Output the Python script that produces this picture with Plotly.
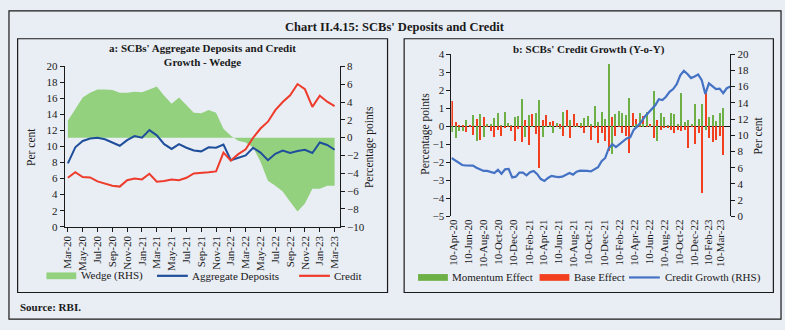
import plotly.graph_objects as go
import pandas as pd

# ---------------- Panel a data (monthly, Mar-20 .. Mar-23) ----------------
months = list(pd.date_range("2020-03-01", periods=37, freq="MS").strftime("%b-%y"))
month_ticks = months[::2]

deposits = [7.9, 9.9, 10.7, 11.0, 11.1, 10.9, 10.5, 10.1, 10.8, 11.3, 11.1, 12.05,
            11.4, 10.3, 9.7, 10.3, 9.85, 9.5, 9.4, 9.9, 9.85, 10.25, 8.3, 8.6,
            8.9, 9.85, 9.25, 8.3, 9.1, 9.5, 9.2, 9.45, 9.6, 9.2, 10.5, 10.2, 9.6]
credit = [6.1, 6.8, 6.2, 6.15, 5.65, 5.4, 5.1, 5.0, 5.8, 6.0, 5.9, 6.6,
          5.6, 5.7, 5.9, 5.8, 6.1, 6.65, 6.7, 6.8, 6.9, 9.25, 8.25, 9.05,
          9.65, 11.1, 12.25, 13.1, 14.55, 15.55, 16.4, 17.8, 17.15, 14.95, 16.35, 15.6, 15.05]
wedge = [1.9, 3.25, 4.5, 5.05, 5.4, 5.4, 5.35, 5.05, 5.05, 5.15, 5.1, 5.4,
         5.75, 4.7, 3.8, 4.5, 3.7, 2.8, 2.75, 3.1, 2.8, 1.0, 0.2, -0.35,
         -0.55, -1.1, -2.7, -4.85, -5.4, -6.05, -7.2, -8.3, -7.4, -5.75, -5.75, -5.4, -5.4]

# ---------------- Panel b data (fortnightly) ----------------
fortnights = pd.date_range("2020-04-10", periods=79, freq="14D")
momentum = [-0.35, -0.65, -0.25, -0.30, 0.35, -0.05, 0.60, -0.80, 0.65, -0.60,
            0.10, 0.12, 0.45, 0.72, 0.05, 0.80, 0.15, 0.05, 0.50, 0.55,
            1.50, -0.60, 0.60, -0.05, 0.70, 1.45, -0.60, -0.05, 0.05, -0.39,
            0.18, -0.18, 0.77, -0.05, 0.36, -0.05, 0.05, 0.18, 0.45, 0.55,
            0.10, 1.09, 0.20, 0.80, 0.41, 3.44, -1.55, 0.68, 0.82, 0.71,
            0.60, 1.55, -0.05, 0.10, 0.70, 0.10, 0.80, 0.03, 1.94, -0.85,
            0.75, 0.52, 0.05, 0.75, 0.66, 0.10, 1.82, 0.20, 0.34, 0.10,
            1.23, 0.39, 1.20, -0.20, 0.48, 0.64, 0.30, 0.75, 0.98]
base = [1.40, 0.22, 0.05, 0.08, -0.35, 0.08, -0.50, 0.40, -0.75, 0.50,
        -0.05, -0.30, -0.60, -0.22, -0.55, -0.10, -0.05, -0.25, -0.80, -0.15,
        -0.90, 0.35, -1.05, 0.65, -0.45, -2.30, 0.36, 0.64, 0.18, 0.29,
        -0.05, 0.10, -0.53, 0.89, -0.66, 0.68, 0.10, -0.12, -0.39, -0.05,
        -0.75, -0.10, -0.93, -0.40, -0.84, -1.37, 0.50, -0.57, -0.05, -0.40,
        -0.57, -1.48, 0.70, 0.27, -0.05, 0.48, -0.05, 0.05, -0.64, 0.35,
        -0.23, -0.10, -0.10, -0.20, -0.37, -0.20, -0.30, -0.20, -1.21, -0.05,
        -1.00, -0.41, -3.70, 1.82, -0.68, -0.87, -0.75, -0.57, -1.63]
credit_growth = [7.2, 6.9, 6.55, 6.33, 6.27, 6.26, 6.26, 6.0, 5.75, 5.6,
                 5.6, 5.5, 5.35, 5.74, 5.25, 5.8, 5.86, 4.8, 4.9, 5.4,
                 5.4, 5.05, 5.45, 5.6, 5.2, 4.6, 4.36, 4.73, 5.0, 4.9,
                 4.83, 4.9, 5.1, 5.35, 5.15, 5.5, 5.63, 5.66, 5.6, 5.55,
                 5.8, 6.05, 6.8, 7.2, 8.4, 8.9, 8.55, 8.9, 9.2, 9.6,
                 9.75, 10.7, 11.1, 11.6, 12.25, 12.7, 13.2, 13.7, 14.45, 14.35,
                 14.75, 15.35, 15.7, 16.3, 17.4, 17.94, 17.55, 17.05, 17.25, 17.5,
                 16.8, 15.1, 16.4, 16.1, 15.7, 15.75, 15.2, 15.8, 16.0]
# label positions as laid out on the original axis
fort_tick_dates = ["2020-04-10", "2020-06-10", "2020-08-10", "2020-10-10", "2020-12-10",
                   "2021-02-10", "2021-04-10", "2021-06-10", "2021-08-10", "2021-10-10",
                   "2021-12-10", "2022-02-10", "2022-04-10", "2022-06-10", "2022-08-10",
                   "2022-10-10", "2022-12-10", "2023-02-04", "2023-03-24"]
fort_tick_labels = ["10-Apr-20", "10-Jun-20", "10-Aug-20", "10-Oct-20", "10-Dec-20",
                    "10-Feb-21", "10-Apr-21", "10-Jun-21", "10-Aug-21", "10-Oct-21",
                    "10-Dec-21", "10-Feb-22", "10-Apr-22", "10-Jun-22", "10-Aug-22",
                    "10-Oct-22", "10-Dec-22", "10-Feb-23", "10-Mar-23"]

# ---------------- styling ----------------
W, H = 785, 330
BG = "#E9EDF4"
INK = "#1a1a1a"
FONT = "Liberation Serif"
C_WEDGE = "#93D17F"
C_DEP = "#1F4E9B"
C_CRED = "#EE3B2B"
C_MOM = "#6DB046"
C_BASE = "#F2401F"
C_CG = "#4472C4"


def fx(px):
    return px / W


def fy(py):
    return 1 - py / H


fig = go.Figure()

# Panel a: wedge on the base (right-hand) axis so the lines draw above it
fig.add_trace(go.Scatter(x=months, y=wedge, xaxis="x", yaxis="y", mode="lines",
                         fill="tozeroy", fillcolor=C_WEDGE, line=dict(width=0, color=C_WEDGE),
                         name="Wedge (RHS)", showlegend=False))
fig.add_trace(go.Scatter(x=months, y=deposits, xaxis="x", yaxis="y2", mode="lines",
                         line=dict(color=C_DEP, width=2), name="Aggregate Deposits", showlegend=False))
fig.add_trace(go.Scatter(x=months, y=credit, xaxis="x", yaxis="y2", mode="lines",
                         line=dict(color=C_CRED, width=2), name="Credit", showlegend=False))

# Panel b
bar_w = 6 * 24 * 3600 * 1000
fig.add_trace(go.Bar(x=fortnights, y=momentum, xaxis="x2", yaxis="y3", marker_color=C_MOM,
                     marker_line_width=0, width=bar_w, name="Momentum Effect", showlegend=False))
fig.add_trace(go.Bar(x=fortnights, y=base, xaxis="x2", yaxis="y3", marker_color=C_BASE,
                     marker_line_width=0, width=bar_w, name="Base Effect", showlegend=False))
fig.add_trace(go.Scatter(x=list(range(len(credit_growth))), y=credit_growth, xaxis="x3", yaxis="y4",
                         mode="lines", line=dict(color=C_CG, width=2.2),
                         name="Credit Growth (RHS)", showlegend=False))

TF = dict(family=FONT, size=11, color=INK)
axis_common = dict(showgrid=False, zeroline=False, showline=True, linecolor=INK, linewidth=1,
                   ticks="outside", ticklen=4, tickcolor=INK, tickwidth=1, tickfont=TF)

b_range = ["2020-04-03", "2023-05-04"]

fig.update_layout(
    width=W, height=H, margin=dict(l=0, r=0, t=0, b=0),
    paper_bgcolor=BG, plot_bgcolor=BG, barmode="relative", bargap=0,
    font=dict(family=FONT, size=11, color=INK),
    xaxis=dict(domain=[fx(60), fx(337)], anchor="y", type="category",
               range=[-0.44, 36.71], tickmode="array", tickvals=month_ticks, ticktext=month_ticks,
               tickangle=-90, **axis_common),
    yaxis=dict(domain=[fy(229), fy(62.7)], anchor="x", side="right", range=[-10, 8], dtick=2,
               **axis_common),
    yaxis2=dict(overlaying="y", side="left", anchor="x", range=[0, 20], dtick=2, **axis_common),
    xaxis2=dict(domain=[fx(449.3), fx(730)], anchor="y3", type="date", range=b_range,
                tickmode="array", tickvals=fort_tick_dates, ticktext=fort_tick_labels,
                tickangle=-90, showgrid=False, zeroline=False, showline=False, ticks="",
                tickfont=TF),
    xaxis4=dict(overlaying="x2", anchor="free", position=fy(124.8), type="date", range=b_range,
                tickmode="array", tickvals=fort_tick_dates, showticklabels=False,
                showgrid=False, zeroline=False, showline=False, ticks="outside", ticklen=4,
                tickcolor=INK),
    yaxis3=dict(domain=[fy(218.3), fy(50)], anchor="x2", range=[-5, 4], dtick=1,
                **{**axis_common, "zeroline": True}, zerolinecolor=INK, zerolinewidth=1.3),
    yaxis4=dict(overlaying="y3", side="right", anchor="x2", range=[0, 20], dtick=2, **axis_common),
    xaxis3=dict(overlaying="x2", range=[0, len(credit_growth) - 1], visible=False),
)

shapes = []
ann = []

# outer frame and panel boxes
shapes.append(dict(type="rect", xref="paper", yref="paper", x0=fx(4), x1=fx(781), y0=fy(325), y1=fy(5),
                   line=dict(color=INK, width=1.2), layer="below"))
for x0, x1 in [(12.7, 385), (401.7, 773.3)]:
    shapes.append(dict(type="rect", xref="paper", yref="paper", x0=fx(x0), x1=fx(x1),
                       y0=fy(297.3), y1=fy(34), line=dict(color=INK, width=1.2), layer="below"))


def text(x, y, s, size=11, bold=False, xanchor="left", angle=0):
    ann.append(dict(xref="paper", yref="paper", x=fx(x), y=fy(y), text=("<b>%s</b>" % s) if bold else s,
                    showarrow=False, xanchor=xanchor, yanchor="middle", textangle=angle,
                    font=dict(family=FONT, size=size, color=INK)))


text(392.5, 22, "Chart II.4.15: SCBs' Deposits and Credit", size=12.5, bold=True, xanchor="center")
text(12.7, 312, "Source: RBI.", size=11, bold=True)
ann.append(dict(xref="paper", yref="paper", x=fx(198.5), y=fy(51), showarrow=False,
                text="<b>a: SCBs' Aggregate Deposits and Credit<br>Growth - Wedge</b>",
                xanchor="center", yanchor="middle", align="center",
                font=dict(family=FONT, size=11, color=INK)))
text(588, 45, "b: SCBs' Credit Growth (Y-o-Y)", size=11, bold=True, xanchor="center")

text(26.7, 146.7, "Per cent", angle=-90, xanchor="center", size=11.5)
text(366.7, 146, "Percentage points", angle=-90, xanchor="center", size=11.5)
text(423.3, 133, "Percentage points", angle=-90, xanchor="center", size=11.5)
text(758.3, 134, "Per cent", angle=-90, xanchor="center", size=11.5)

# legends (panel a)
ly = 280
shapes.append(dict(type="rect", xref="paper", yref="paper", x0=fx(41.7), x1=fx(71.7),
                   y0=fy(ly + 3.5), y1=fy(ly - 3.5), fillcolor=C_WEDGE, line=dict(width=0)))
text(74, ly, "Wedge (RHS)")
shapes.append(dict(type="line", xref="paper", yref="paper", x0=fx(153), x1=fx(184), y0=fy(ly), y1=fy(ly),
                   line=dict(color=C_DEP, width=2.2)))
text(186, ly, "Aggregate Deposits")
shapes.append(dict(type="line", xref="paper", yref="paper", x0=fx(296), x1=fx(327), y0=fy(ly), y1=fy(ly),
                   line=dict(color=C_CRED, width=2.2)))
text(329, ly, "Credit")

# legends (panel b)
ly = 281.7
shapes.append(dict(type="rect", xref="paper", yref="paper", x0=fx(415.7), x1=fx(445.7),
                   y0=fy(ly + 3.5), y1=fy(ly - 3.5), fillcolor=C_MOM, line=dict(width=0)))
text(448, ly, "Momentum Effect")
shapes.append(dict(type="rect", xref="paper", yref="paper", x0=fx(538), x1=fx(568),
                   y0=fy(ly + 3.5), y1=fy(ly - 3.5), fillcolor=C_BASE, line=dict(width=0)))
text(571, ly, "Base Effect")
shapes.append(dict(type="line", xref="paper", yref="paper", x0=fx(628), x1=fx(659), y0=fy(ly), y1=fy(ly),
                   line=dict(color=C_CG, width=2.2)))
text(662, ly, "Credit Growth (RHS)")

fig.update_layout(shapes=shapes, annotations=ann)
fig.write_html("out.html")
